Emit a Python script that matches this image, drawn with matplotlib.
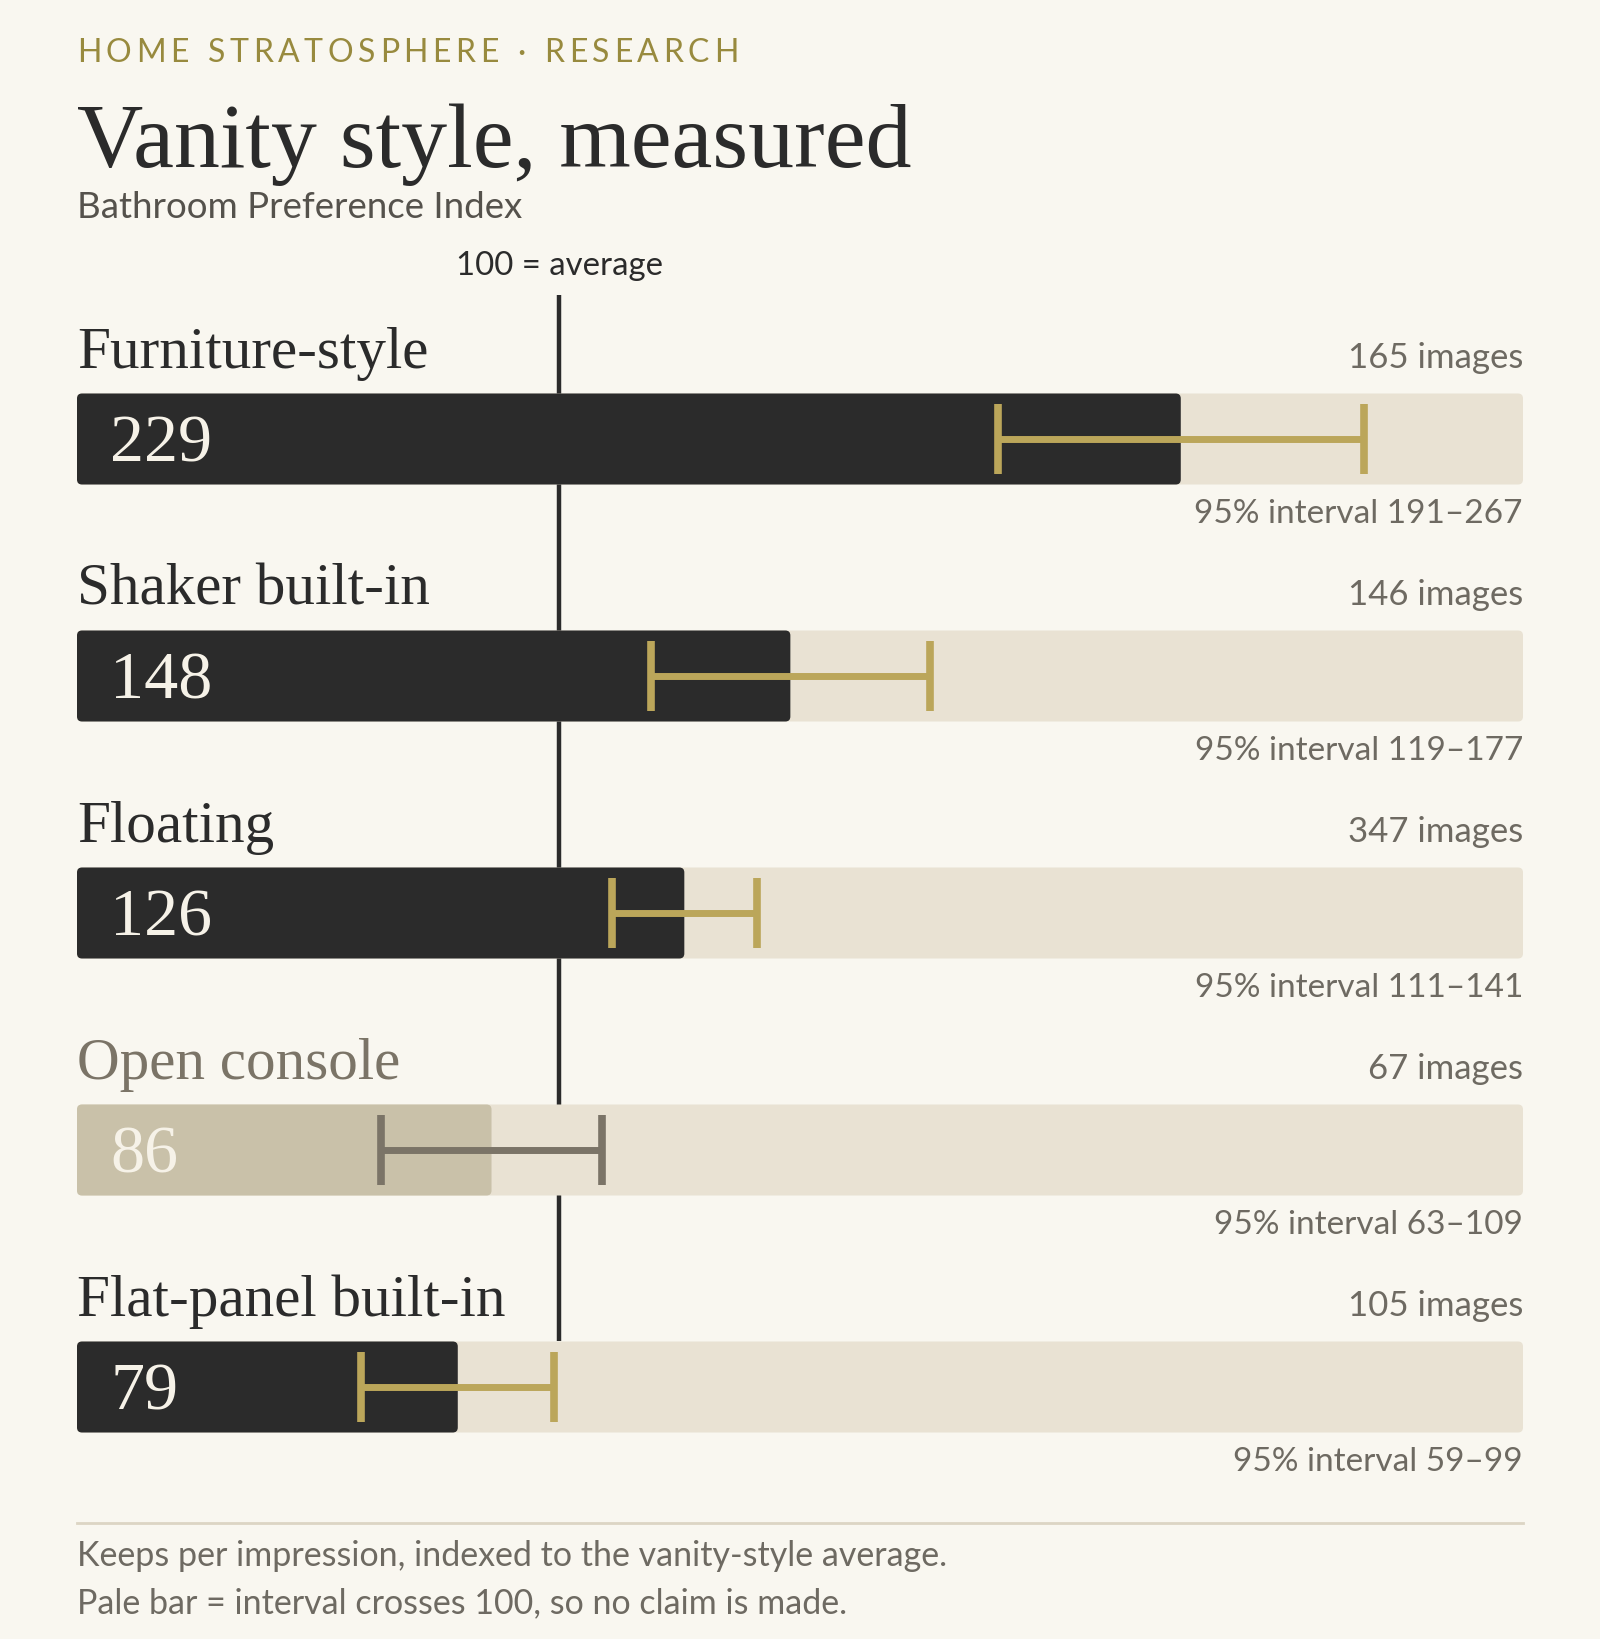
import matplotlib
matplotlib.use("Agg")
import matplotlib.pyplot as plt
from matplotlib.patches import FancyBboxPatch

# data
styles = ["Furniture-style", "Shaker built-in", "Floating", "Open console", "Flat-panel built-in"]
index_vals = [229, 148, 126, 86, 79]
ci_low = [191, 119, 111, 63, 59]
ci_high = [267, 177, 141, 109, 99]
n_images = [165, 146, 347, 67, 105]

BG = "#f9f7f0"
INK = "#2b2b2b"
TRACK = "#e9e2d3"
PALE = "#c9c1a9"
GOLD = "#bba65a"
MUTED = "#7b7467"
GRAY = "#6e6a62"
SERIF = ["Liberation Serif", "DejaVu Serif"]
SANS = ["Lato", "DejaVu Sans"]

W, H = 1600, 1639
fig = plt.figure(figsize=(W / 100, H / 100), dpi=100, facecolor=BG)


def fy(py):
    return 1 - py / H


# main axes, x = index 0..300, y = row number (pixel rows 237 apart)
left, right = 77, 1523
ax_top, ax_bot = 230, 1450
row0, step = 439, 237
ax = fig.add_axes([left / W, fy(ax_bot), (right - left) / W, (ax_bot - ax_top) / H])
ax.set_xlim(0, 300)
ax.set_ylim((ax_bot - row0) / step, (ax_top - row0) / step)
ax.axis("off")

bar_h = 0.384
# aspect so corners are round in pixels
aspect = (1 / step) / (300 / (right - left))
rad = 5 * 300 / (right - left)


def rbar(x0, x1, y, color, z):
    p = FancyBboxPatch((x0, y - bar_h / 2), x1 - x0, bar_h,
                       boxstyle="round,pad=0,rounding_size=%f" % rad,
                       mutation_aspect=aspect, fc=color, ec="none", zorder=z)
    ax.add_patch(p)


# average line
ax.plot([100, 100], [(295 - row0) / step, len(styles) - 1 - bar_h / 2],
        color=INK, lw=3.2, zorder=1, solid_capstyle="butt")
ax.text(100, (275 - row0) / step, "100 = average", ha="center", va="baseline",
        fontsize=23.7, family=SANS, color=INK)

for i, name in enumerate(styles):
    v = index_vals[i]
    lo, hi = ci_low[i], ci_high[i]
    pale = lo < 100 < hi
    rbar(0, 300, i, TRACK, 2)
    rbar(0, v, i, PALE if pale else INK, 3)
    ecol = MUTED if pale else GOLD
    ax.errorbar([v], [i], xerr=[[v - lo], [hi - v]], fmt="none", ecolor=ecol,
                elinewidth=5, capsize=25, capthick=5.5, zorder=4)
    ax.text(0, i - 0.30, name, ha="left", va="baseline", fontsize=42.6,
            family=SERIF, color=MUTED if pale else INK)
    ax.text(300, i - 0.30, f"{n_images[i]} images", ha="right", va="baseline",
            fontsize=25, family=SANS, color=GRAY)
    ax.text(300, i + 0.354, f"95% interval {lo}\u2013{hi}", ha="right",
            va="baseline", fontsize=24, family=SANS, color=GRAY)
    ax.annotate(str(v), (0, i + 0.097), xytext=(24, 0), textcoords="offset points",
                ha="left", va="baseline", fontsize=49, family=SERIF,
                color="#f6f2e8", zorder=5)

# header with letter spacing
fig.canvas.draw()
rend = fig.canvas.get_renderer()
kicker = "HOME STRATOSPHERE \u00b7 RESEARCH"
target = 661
kw = dict(fontsize=23, family=SANS, color="#988a3e", va="baseline", ha="left")
widths = []
for ch in kicker:
    t = fig.text(0, 0, ch if ch != " " else "n", **kw)
    widths.append(t.get_window_extent(rend).width * (0.55 if ch == " " else 1))
    t.remove()
track = (target - sum(widths)) / (len(kicker) - 1)
x = left
for ch, w in zip(kicker, widths):
    fig.text(x / W, fy(62), ch, **kw)
    x += w + track

fig.text(left / W, fy(167), "Vanity style, measured", fontsize=66.2, family=SERIF,
         color=INK, va="baseline")
fig.text(left / W, fy(218), "Bathroom Preference Index", fontsize=26.4, family=SANS,
         color="#55524c", va="baseline")

# footer
fig.add_artist(plt.Line2D([left / W, right / W], [fy(1523), fy(1523)],
                          color="#dcd5c4", lw=2))
fig.text(left / W, fy(1566), "Keeps per impression, indexed to the vanity-style average.",
         fontsize=24.5, family=SANS, color=GRAY, va="baseline")
fig.text(left / W, fy(1613), "Pale bar = interval crosses 100, so no claim is made.",
         fontsize=24.5, family=SANS, color=GRAY, va="baseline")

fig.savefig("out.png", dpi=100, facecolor=BG)
